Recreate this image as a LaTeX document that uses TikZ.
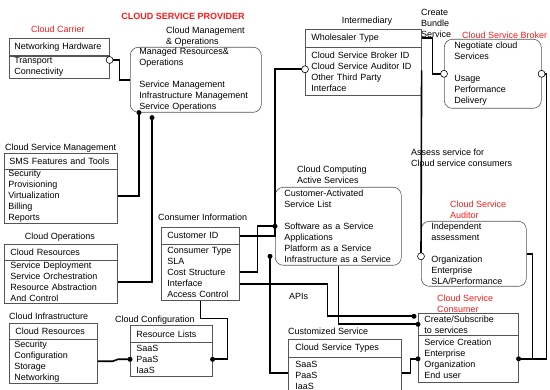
\documentclass[tikz,border=0pt]{standalone}
\usepackage{fontspec}
\setmainfont{Liberation Sans}
\definecolor{boxline}{RGB}{85,85,85}
\definecolor{titlered}{RGB}{255,25,25}
\newcommand{\boxfont}{\fontsize{9}{11}\selectfont}
\tikzset{
  cellbox/.style={draw=boxline, line width=0.6pt, anchor=north west, align=left, inner ysep=0pt, font=\boxfont},
  roundbox/.style={cellbox, rounded corners=8pt},
  heading/.style={inner sep=0pt, align=left, font=\boxfont},
  redheading/.style={heading, text=titlered},
  wire/.style={line width=1.6pt},
  ring/.style={draw, fill=white, line width=0.6pt}
}
\begin{document}
\begin{tikzpicture}[x=1pt, y=-1pt]
    \useasboundingbox (0,0) rectangle (550,390);

    \node[redheading, font=\boxfont\bfseries] (provider) at (183,16) {CLOUD SERVICE PROVIDER};
    \node[redheading] (carriertitle) at (58,29) {Cloud Carrier};
    \node[heading, anchor=north west] (mgmttitle) at (166,26.5) {Cloud Management\\\& Operations};
    \node[heading] (intertitle) at (367,21) {Intermediary};
    \node[heading, anchor=north west] (bundle) at (421,9.5) {Create\\Bundle\\Service};
    \node[redheading, anchor=west] (brokertitle) at (462,35) {Cloud Service Broker};
    \node[heading, anchor=west] (smstitle) at (5,148) {Cloud Service Management};
    \node[heading] (optitle) at (60,237) {Cloud Operations};
    \node[heading, anchor=west] (infratitle) at (9,316) {Cloud Infrastructure};
    \node[heading, anchor=west] (conftitle) at (115,320) {Cloud Configuration};
    \node[heading, anchor=west] (cititle) at (158,217) {Consumer Information};
    \node[heading, anchor=north west] (comptitle) at (297,165.5) {Cloud Computing\\Active Services};
    \node[heading, anchor=north west] (assess) at (411,148.5) {Assess service for\\Cloud service consumers};
    \node[redheading, anchor=north west] (auditortitle) at (450,200.5) {Cloud Service\\Auditor};
    \node[heading, anchor=west] (apis) at (289,296) {APIs};
    \node[redheading, anchor=north west] (constitle) at (437,294.5) {Cloud Service\\Consumer};
    \node[heading, anchor=west] (typetitle) at (288,331) {Customized Service};

    \node[cellbox, inner xsep=5pt, text width=90pt, minimum height=17pt] (carrierhead) at (9,38) {Networking Hardware};
    \node[cellbox, inner xsep=5pt, text width=90pt, minimum height=22pt] (carrierbody) at (9,56) {Transport\\Connectivity};
    \node[roundbox, inner xsep=9pt, text width=113pt, minimum height=65pt] (mgmt) at (130,47) {Managed Resources\&\\Operations\\[11pt]Service Management\\Infrastructure Management\\Service Operations};
    \node[cellbox, inner xsep=6pt, text width=104pt, minimum height=18pt] (interhead) at (305,29) {Wholesaler Type};
    \node[cellbox, inner xsep=6pt, text width=104pt, minimum height=48pt] (interbody) at (305,47) {Cloud Service Broker ID\\Cloud Service Auditor ID\\Other Third Party\\Interface};
    \node[roundbox, inner xsep=10pt, text width=77pt, minimum height=69pt] (broker) at (444,39) {Negotiate cloud\\Services\\[11pt]Usage\\Performance\\Delivery};
    \node[cellbox, inner xsep=5pt, text width=103pt, minimum height=16pt] (smshead) at (4,153) {SMS Features and Tools};
    \node[cellbox, inner xsep=4pt, text width=105pt, minimum height=54pt] (smsbody) at (4,169) {Security\\Provisioning\\Virtualization\\Billing\\Reports};
    \node[cellbox, inner xsep=6pt, text width=101pt, minimum height=16pt] (ophead) at (4,244) {Cloud Resources};
    \node[cellbox, inner xsep=6pt, text width=101pt, minimum height=43pt] (opbody) at (4,260) {Service Deployment\\Service Orchestration\\Resource Abstraction\\And Control};
    \node[cellbox, inner xsep=6pt, text width=76pt, minimum height=16pt] (infrahead) at (9,323) {Cloud Resources};
    \node[cellbox, inner xsep=5pt, text width=78pt, minimum height=44pt] (infrabody) at (9,339) {Security\\Configuration\\Storage\\Networking};
    \node[cellbox, inner xsep=6pt, text width=70pt, minimum height=17pt] (confhead) at (130,325) {Resource Lists};
    \node[cellbox, inner xsep=6pt, text width=70pt, minimum height=34pt] (confbody) at (130,342) {SaaS\\PaaS\\IaaS};
    \node[cellbox, inner xsep=6pt, text width=66pt, minimum height=17pt] (cihead) at (161,227) {Customer ID};
    \node[cellbox, inner xsep=6pt, text width=66pt, minimum height=56pt] (cibody) at (161,244) {Consumer Type\\SLA\\Cost Structure\\Interface\\Access Control};
    \node[roundbox, inner xsep=9pt, text width=108pt, minimum height=78pt] (computing) at (275,187) {Customer-Activated\\Service List\\[11pt]Software as a Service\\Applications\\Platform as a Service\\Infrastructure as a Service};
    \node[roundbox, inner xsep=10pt, text width=85pt, minimum height=65pt] (auditor) at (421,221) {Independent\\assessment\\[11pt]Organization\\Enterprise\\SLA/Performance};
    \node[cellbox, inner xsep=6pt, text width=88pt, minimum height=22pt] (conshead) at (418,313) {Create/Subscribe\\to services};
    \node[cellbox, inner xsep=6pt, text width=88pt, minimum height=47pt] (consbody) at (418,335) {Service Creation\\Enterprise\\Organization\\End user};
    \node[cellbox, inner xsep=7pt, text width=99pt, minimum height=18pt] (typehead) at (288,339) {Cloud Service Types};
    \node[cellbox, inner xsep=7pt, text width=99pt, minimum height=36pt] (typebody) at (288,357) {SaaS\\PaaS\\IaaS};

    \coordinate (carrierport) at ([yshift=-4pt]carrierbody.north east);
    \coordinate (mgmtA) at ([xshift=9pt]mgmt.south west);
    \coordinate (mgmtB) at ([xshift=22pt,yshift=-5pt]mgmt.south west);
    \coordinate (interring) at ([yshift=2pt]interbody.west);
    \coordinate (compB) at ([xshift=-5pt,yshift=-30pt]computing.west);
    \coordinate (auditorring) at ([yshift=-2.5pt]auditor.west);
    \coordinate (consA) at ([xshift=-4pt,yshift=8pt]conshead.west);
    \coordinate (typeportW) at ([yshift=-16pt]typebody.north west);
    \coordinate (typeportE) at ([yshift=-16pt]typebody.north east);

    \draw[wire] (carrierport) -- ++(10,0) |- (mgmt.west);
    \draw[wire] (mgmtA) |- (smsbody.east);
    \draw[wire] (mgmtB) |- (opbody.east);
    \draw[wire] (interring) -| (computing.west);
    \draw[wire] (cihead.east) -| (computing.west);
    \draw[wire] (cibody.east) -- ++(18,0) |- (computing.west);
    \draw[wire] (compB) |- (typeportW);
    \draw[wire] ([yshift=-12pt]cibody.east) -- ++(88,0) |- (consA);
    \draw[wire] (computing.south) |- (conshead.west);
    \draw[wire] (typeportE) -- ++(9,0) |- (consbody.west);
    \draw[wire] (interhead.east) -- ++(11,0) |- (broker.west);
    \draw[wire] ([yshift=1pt]interbody.east) -- (auditorring);
    \draw[wire] (broker.east) -- ++(5,0) |- (consbody.east);
    \draw[wire] (auditor.east) -- ++(6,0) |- (consbody.east);
    \draw[wire] (confbody.east) -- ++(15,0) |- ([yshift=-18pt]cibody.south) -- (cibody.south);
    \draw[wire] (infrabody.east) -- ++(15,0) -- ([xshift=-12pt]confbody.west) -- (confbody.west);

    \fill (mgmtA) circle (2.5pt);
    \fill (mgmtB) circle (2.5pt);
    \fill (computing.west) circle (2.5pt);
    \fill (compB) circle (2.5pt);
    \fill (consA) circle (2.5pt);
    \fill (conshead.west) circle (2.5pt);
    \fill (consbody.west) circle (2.5pt);
    \fill (consbody.east) circle (2.5pt);
    \fill (confbody.west) circle (2.5pt);
    \fill (confbody.east) circle (2.5pt);

    \draw[ring] (carrierport) circle (3.5pt);
    \draw[ring] (interring) circle (3.5pt);
    \draw[ring] (broker.west) circle (3.5pt);
    \draw[ring] (broker.east) circle (3.5pt);
    \draw[ring] (auditorring) circle (3.5pt);
\end{tikzpicture}
\end{document}
